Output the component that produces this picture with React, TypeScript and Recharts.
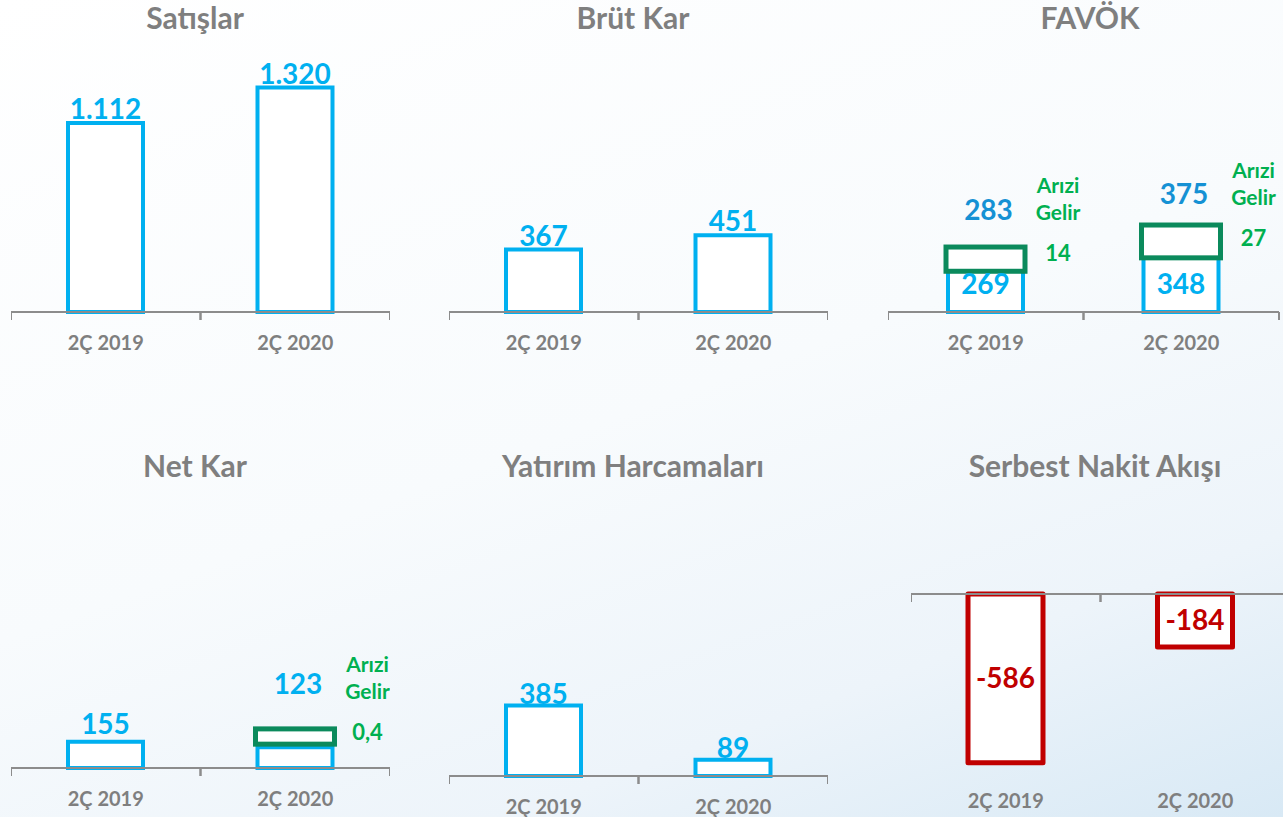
import React from 'react';
import { BarChart, Bar, XAxis, YAxis, LabelList } from 'recharts';

const periods = ['2Ç 2019', '2Ç 2020'];
const sales = [1112, 1320];
const grossProfit = [367, 451];
const ebitdaCore = [269, 348];
const ebitdaOneOff = [14, 27];
const ebitdaTotal = [283, 375];
const netCore = [155, 122.6];
const netOneOff = [0, 0.4];
const netTotal = [155, 123];
const capex = [385, 89];
const freeCashFlow = [-586, -184];
const oneOffText = ['Arızi', 'Gelir'];

const FONT = 'Lato, "Open Sans", sans-serif';
const BLUE = '#00b0f0';
const DARK_BLUE = '#1591d4';
const GREEN = '#00b050';
const DARK_GREEN = '#0b8a5c';
const RED = '#c00000';
const GREY = '#7f7f7f';
const AXIS = '#8c8c8c';

// turkish style: 1.112 and 0,4
const fmt = (v: number) => {
  const [int, dec] = Math.abs(v).toString().split('.');
  const s = int.replace(/\B(?=(\d{3})+(?!\d))/g, '.');
  return (v < 0 ? '-' : '') + s + (dec ? ',' + dec : '');
};

const rows = (value: number[], oneOff?: number[], total?: number[]) =>
  periods.map((period, i) => ({
    period,
    value: value[i],
    oneOff: oneOff ? oneOff[i] : 0,
    total: total ? total[i] : value[i],
  }));

function PeriodTick(props: any) {
  const { x, payload, axisY, labelY, band } = props;
  return (
    <g>
      <line x1={x - band / 2} x2={x - band / 2} y1={axisY} y2={axisY + 8} stroke={AXIS} strokeWidth={2} />
      <line x1={x + band / 2} x2={x + band / 2} y1={axisY} y2={axisY + 8} stroke={AXIS} strokeWidth={2} />
      <text x={x} y={labelY} textAnchor="middle" dominantBaseline="central" fill={GREY} fontSize={20} fontWeight={700} fontFamily={FONT}>
        {payload.value}
      </text>
    </g>
  );
}

function OneOffBox(props: any) {
  const { x, y, width, height, payload, overlap } = props;
  if (!payload || !payload.oneOff) return <g />;
  const base = y + height;
  const h = 15 + payload.oneOff * 0.66;
  return <rect x={x - 2} y={base + overlap - h} width={width + 4} height={h} fill="#fff" stroke={DARK_GREEN} strokeWidth={5} />;
}

function OneOffLabels(props: any) {
  const { x, y, width, index, data, totalColor, totalLift, sideDrop } = props;
  const d = data[index];
  const cx = x + width / 2;
  if (!d.oneOff) {
    return (
      <text x={cx} y={y - 8} textAnchor="middle" fill={totalColor} fontSize={28} fontWeight={700} fontFamily={FONT}>
        {fmt(d.total)}
      </text>
    );
  }
  const gx = x + width + 35;
  const gy = y - sideDrop;
  return (
    <g fontFamily={FONT} fontWeight={700}>
      <text x={cx + 3} y={y - totalLift} textAnchor="middle" dominantBaseline="central" fill={totalColor} fontSize={28}>
        {fmt(d.total)}
      </text>
      <text x={gx} y={gy} textAnchor="middle" dominantBaseline="central" fill={GREEN} fontSize={22}>
        {fmt(d.oneOff)}
      </text>
      <text x={gx} y={gy - 68} textAnchor="middle" dominantBaseline="central" fill={GREEN} fontSize={21}>
        {oneOffText[0]}
      </text>
      <text x={gx} y={gy - 41} textAnchor="middle" dominantBaseline="central" fill={GREEN} fontSize={21}>
        {oneOffText[1]}
      </text>
    </g>
  );
}

function Title({ text, cx, top }: { text: string; cx: number; top: number }) {
  return (
    <div
      style={{
        position: 'absolute',
        left: cx - 200,
        top,
        width: 400,
        height: 34,
        lineHeight: '34px',
        textAlign: 'center',
        fontFamily: FONT,
        fontWeight: 700,
        fontSize: 30,
        color: GREY,
      }}
    >
      {text}
    </div>
  );
}

const labelStyle = { fontFamily: FONT, fontWeight: 700, fontSize: 28 };

function SimplePanel({ left, top, data, max, color, offset }: any) {
  const W = 379;
  const plot = 272;
  const H = plot + 60;
  return (
    <div style={{ position: 'absolute', left, top }}>
      <BarChart width={W} height={H} data={data} margin={{ top: 0, right: 0, bottom: 0, left: 0 }} barSize={75}>
        <YAxis hide domain={[0, max]} />
        <XAxis
          dataKey="period"
          height={60}
          interval={0}
          axisLine={{ stroke: AXIS, strokeWidth: 2 }}
          tickLine={false}
          tick={<PeriodTick axisY={plot} labelY={plot + 30} band={W / 2} />}
        />
        <Bar dataKey="value" fill="#fff" stroke={color} strokeWidth={4} isAnimationActive={false}>
          <LabelList dataKey="value" position="top" offset={offset} formatter={(v: any) => fmt(Number(v))} fill={color} style={labelStyle} />
        </Bar>
      </BarChart>
    </div>
  );
}

function OneOffPanel({ left, top, width, data, max, overlap, totalColor, totalLift, sideDrop, insideLabels }: any) {
  const plot = 272;
  const H = plot + 60;
  const right = width > 379 ? 4 : 0;
  return (
    <div style={{ position: 'absolute', left, top }}>
      <BarChart width={width} height={H} data={data} margin={{ top: 0, right, bottom: 0, left: 0 }} barSize={75}>
        <YAxis hide domain={[0, max]} />
        <XAxis
          dataKey="period"
          height={60}
          interval={0}
          axisLine={{ stroke: AXIS, strokeWidth: 2 }}
          tickLine={false}
          tick={<PeriodTick axisY={plot} labelY={plot + 30} band={(width - right) / 2} />}
        />
        <Bar dataKey="value" stackId="s" fill="#fff" stroke={BLUE} strokeWidth={4} isAnimationActive={false}>
          {insideLabels && (
            <LabelList dataKey="value" position="insideBottom" offset={18} formatter={(v: any) => fmt(Number(v))} fill={BLUE} style={labelStyle} />
          )}
        </Bar>
        <Bar dataKey="oneOff" stackId="s" isAnimationActive={false} shape={(p: any) => <OneOffBox {...p} overlap={overlap} />}>
          <LabelList
            dataKey="total"
            content={(p: any) => <OneOffLabels {...p} data={data} totalColor={totalColor} totalLift={totalLift} sideDrop={sideDrop} />}
          />
        </Bar>
      </BarChart>
    </div>
  );
}

function NegativePanel({ left, top, data, min }: any) {
  const W = 379;
  const plot = 186;
  const bottom = 40;
  const H = 10 + plot + bottom;
  return (
    <div style={{ position: 'absolute', left, top }}>
      <BarChart width={W} height={H} data={data} margin={{ top: 0, right: 0, bottom, left: 0 }} barSize={75}>
        <YAxis hide domain={[min, 0]} />
        <XAxis
          dataKey="period"
          orientation="top"
          height={10}
          interval={0}
          axisLine={{ stroke: AXIS, strokeWidth: 2 }}
          tickLine={false}
          tick={<PeriodTick axisY={10} labelY={216} band={W / 2} />}
        />
        <Bar dataKey="value" fill="#fff" stroke={RED} strokeWidth={5} strokeLinejoin="round" isAnimationActive={false}>
          <LabelList dataKey="value" position="center" formatter={(v: any) => fmt(Number(v))} fill={RED} style={labelStyle} />
        </Bar>
      </BarChart>
    </div>
  );
}

export default function App() {
  return (
    <div
      style={{
        position: 'absolute',
        left: 0,
        top: 0,
        width: 1283,
        height: 817,
        overflow: 'hidden',
        background: 'linear-gradient(160deg, #ffffff 0%, #f8fbfd 50%, #edf4fa 78%, #d8e9f5 100%)',
      }}
    >
      <Title text="Satışlar" cx={195} top={0} />
      <Title text="Brüt Kar" cx={633} top={0} />
      <Title text="FAVÖK" cx={1090} top={0} />
      <Title text="Net Kar" cx={195} top={448} />
      <Title text="Yatırım Harcamaları" cx={633} top={448} />
      <Title text="Serbest Nakit Akışı" cx={1095} top={448} />

      <SimplePanel left={11} top={40} data={rows(sales)} max={1600} color={BLUE} offset={4} />
      <SimplePanel left={449} top={40} data={rows(grossProfit)} max={1600} color={BLUE} offset={4} />
      <OneOffPanel
        left={888}
        top={40}
        width={395}
        data={rows(ebitdaCore, ebitdaOneOff, ebitdaTotal)}
        max={1600}
        overlap={5}
        totalColor={DARK_BLUE}
        totalLift={55}
        sideDrop={11}
        insideLabels
      />
      <OneOffPanel
        left={11}
        top={496}
        width={379}
        data={rows(netCore, netOneOff, netTotal)}
        max={1600}
        overlap={-3}
        totalColor={BLUE}
        totalLift={64}
        sideDrop={16}
      />
      <SimplePanel left={449} top={504} data={rows(capex)} max={1486} color={BLUE} offset={2} />
      <NegativePanel left={911} top={584} data={rows(freeCashFlow)} min={-646} />
    </div>
  );
}
